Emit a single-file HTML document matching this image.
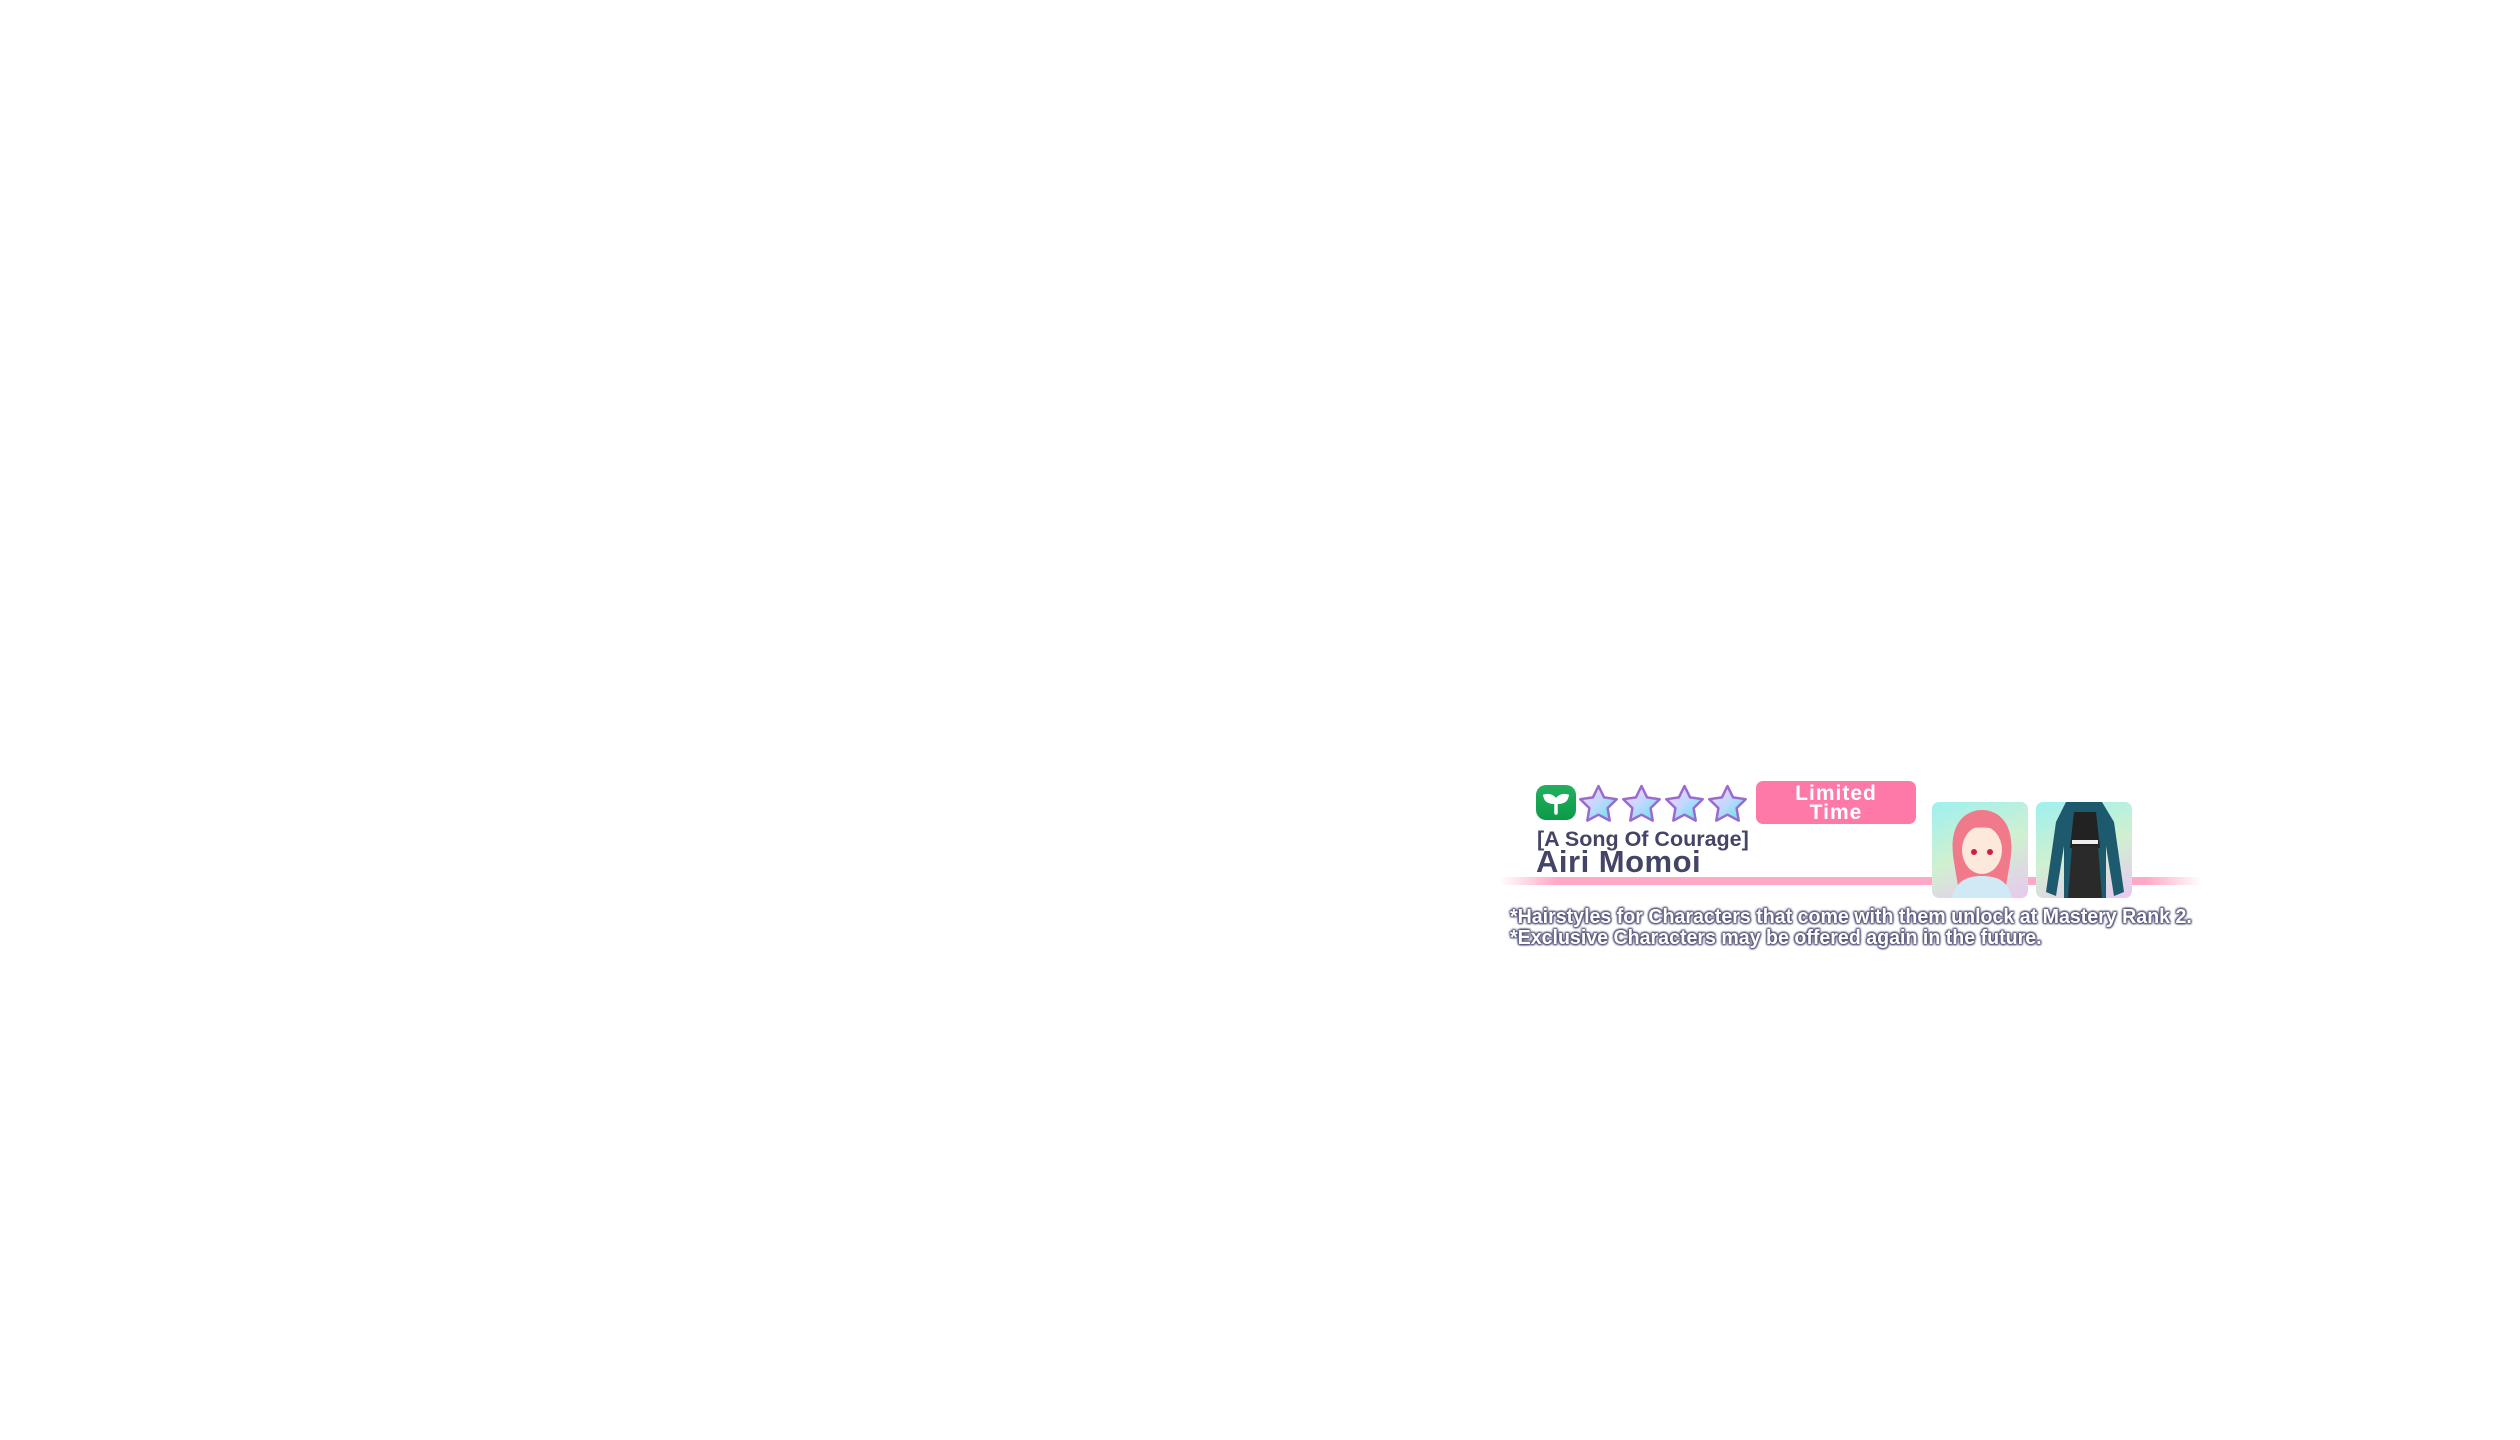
<!DOCTYPE html>
<html><head><meta charset="utf-8"><style>
body{margin:0;width:2520px;height:1440px;background:#fff;position:relative;overflow:hidden;font-family:"Liberation Sans",sans-serif}
.a{position:absolute}
.line{left:1500px;top:877px;width:702px;height:8px;background:linear-gradient(90deg,rgba(255,160,195,0),#ffa8c8 8%,#ffa8c8 92%,rgba(255,160,195,0))}
.sprout{left:1536px;top:785px;width:40px;height:35px;border-radius:10px;background:linear-gradient(#22b060,#0d9a48)}
.box{left:1756px;top:781px;width:160px;height:43px;border-radius:7px;background:#ff79a8;color:#fff;font-weight:bold;font-size:21px;line-height:19px;text-align:center;padding-top:3px;box-sizing:border-box;letter-spacing:1px}
.t1{left:1537px;top:827px;font-size:21.5px;font-weight:bold;color:#444466;white-space:nowrap}
.t2{left:1536px;top:844px;font-size:31px;font-weight:bold;color:#444466;white-space:nowrap;letter-spacing:0.5px}
.p{top:802px;width:96px;height:96px;border-radius:7px;overflow:hidden}
.n{left:1510px;font-size:20px;font-weight:bold;color:#fff;white-space:nowrap;transform:scaleX(0.98);transform-origin:left top;text-shadow:0 0 2px #55557a,0 0 2px #55557a,1px 1px 2px #55557a,-1px -1px 2px #55557a,1px -1px 2px #55557a,-1px 1px 2px #55557a}
</style></head><body>
<div class="a line"></div>
<div class="a sprout"><svg width="40" height="35" viewBox="0 0 40 35"><path d="M20 28V16M20 17c-2-6-7-7-11-6 1 5 5 7 11 6zM20 17c2-6 7-7 11-6-1 5-5 7-11 6z" stroke="#fff" stroke-width="3.5" fill="#fff" stroke-linecap="round"/></svg></div>
<svg class="a" style="left:1577px;top:784px" width="173" height="38" viewBox="0 0 173 38">
<defs><linearGradient id="g" x1="0" y1="0" x2="1" y2="1"><stop offset="0" stop-color="#ffd0f0"/><stop offset="0.5" stop-color="#c0d8ff"/><stop offset="1" stop-color="#50e8e0"/></linearGradient></defs>
<g fill="url(#g)" stroke="#9a6ad0" stroke-width="2.5" stroke-linejoin="round">
<path id="s" d="M21.5 2l5.6 11.4 12.6 1.8-9.1 8.9 2.1 12.5-11.2-5.9-11.2 5.9 2.1-12.5-9.1-8.9 12.6-1.8z"/>
<use href="#s" x="43"/><use href="#s" x="86"/><use href="#s" x="129"/></g></svg>
<div class="a box">Limited<br>Time</div>
<div class="a t1">[A Song Of Courage]</div>
<div class="a t2">Airi Momoi</div>
<div class="a p" style="left:1932px;background:linear-gradient(160deg,#9ef0f0,#d0f0d0 50%,#e8c8f0)">
<svg width="96" height="96"><path d="M22 60C15 20 35 8 50 8s35 12 28 52l-6 36H28z" fill="#f07a8a"/><ellipse cx="50" cy="48" rx="20" ry="24" fill="#fde8dc"/><path d="M28 30c10-14 34-14 44 0-10-6-34-6-44 0z" fill="#f07a8a"/><circle cx="42" cy="50" r="3" fill="#d02040"/><circle cx="58" cy="50" r="3" fill="#d02040"/><path d="M20 96c4-18 16-22 30-22s26 4 30 22z" fill="#cfeaf5"/></svg></div>
<div class="a p" style="left:2036px;background:linear-gradient(160deg,#9ef0f0,#d0f0d0 50%,#e8c8f0)">
<svg width="96" height="96"><path d="M30 0h36l12 20 10 70-10 4-8-50v52H28V44l-8 50-10-4 10-70z" fill="#1d5a6e"/><path d="M38 10h22l4 36H34z" fill="#222"/><rect x="36" y="38" width="26" height="4" fill="#eee"/><path d="M36 44h26l4 52H32z" fill="#2a2a2a"/></svg></div>
<div class="a n" style="top:906px">*Hairstyles for Characters that come with them unlock at Mastery Rank 2.</div>
<div class="a n" style="top:927px">*Exclusive Characters may be offered again in the future.</div>
</body></html>
